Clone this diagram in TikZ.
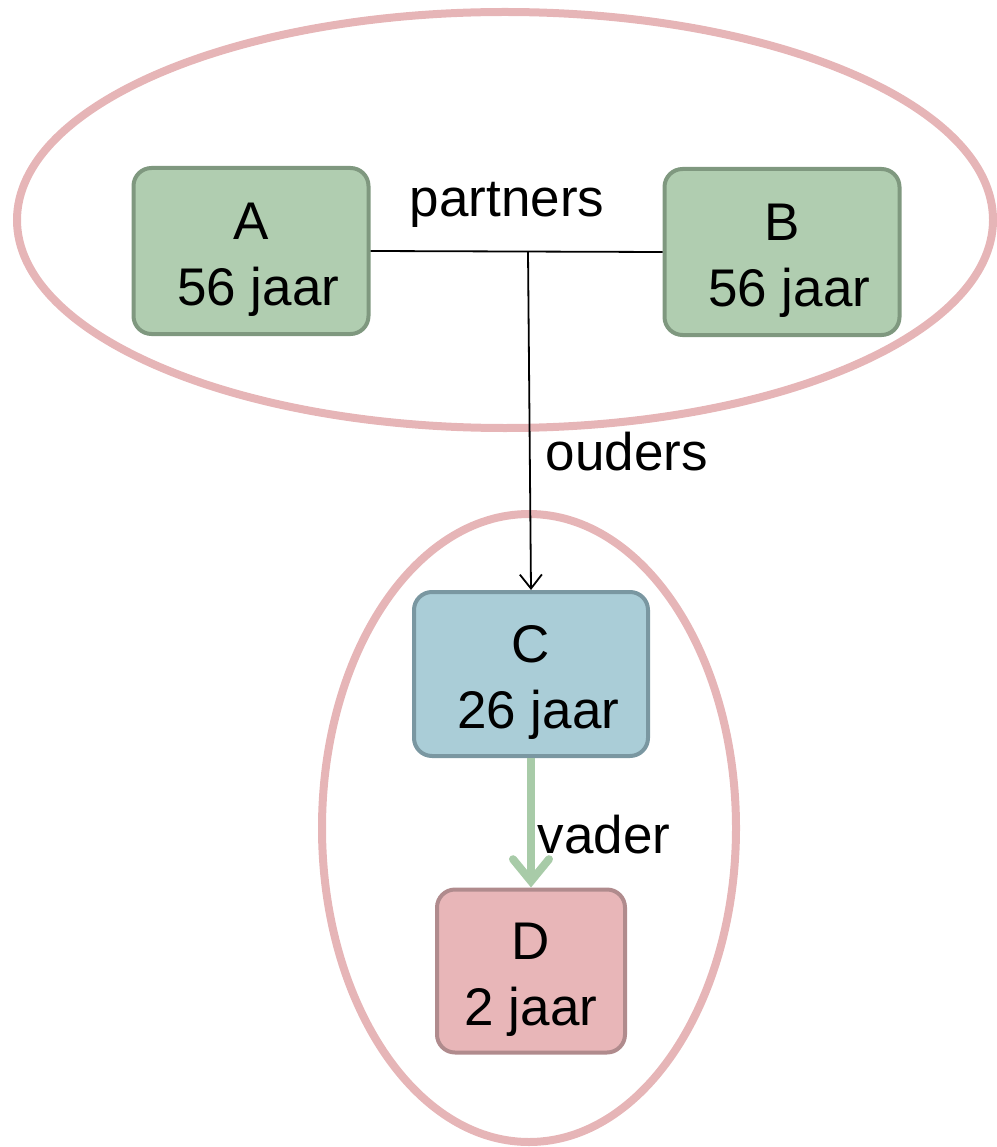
\documentclass[tikz,border=0pt]{standalone}
\usepackage{fontspec}
\setmainfont{Liberation Sans}
\usetikzlibrary{arrows.meta}
\definecolor{gfill}{HTML}{B0CDB0}
\definecolor{gline}{HTML}{7F987F}
\definecolor{bfill}{HTML}{AACDD7}
\definecolor{bline}{HTML}{7A97A1}
\definecolor{pfill}{HTML}{E8B6B8}
\definecolor{pline}{HTML}{B08B8D}
\definecolor{ringc}{HTML}{E6B5B7}
\definecolor{garrow}{HTML}{A8CBA8}
\newcommand{\lead}{\hspace*{0.278em}}
\begin{document}
\begin{tikzpicture}[x=1pt,y=-1pt,
  person/.style={draw, rounded corners=18pt, line width=4pt, align=center,
    inner sep=0pt, text height=120pt, font=\fontsize{53}{66}\selectfont},
  ring/.style={draw=ringc, line width=8pt},
  rel/.style={draw=black, line width=1.8pt},
  lbl/.style={inner sep=0pt, font=\fontsize{53}{64}\selectfont}]
\useasboundingbox (0,0) rectangle (996,1147);
% groups
\draw[ring] (505,220) ellipse [x radius=488, y radius=208];
\draw[ring] (529,828) ellipse [x radius=207, y radius=314];
% persons
\node[person, fill=gfill, draw=gline, minimum width=235pt, minimum height=166pt] (A) at (251,251) {A\\\lead 56 jaar};
\node[person, fill=gfill, draw=gline, minimum width=235pt, minimum height=166pt] (B) at (782,252) {B\\\lead 56 jaar};
\node[person, fill=bfill, draw=bline, minimum width=234pt, minimum height=164pt] (C) at (531,674) {C\\\lead 26 jaar};
\node[person, fill=pfill, draw=pline, minimum width=188pt, minimum height=163pt] (D) at (531,971) {D\\2 jaar};
% relations
\draw[rel] (A.east) -- (B.west);
\coordinate (j) at (528,252);
\draw[rel, -{Straight Barb[length=14pt,width=22pt,line width=1.8pt]}] (j) -- (C.north);
\draw[draw=garrow, line width=8pt, -{Straight Barb[length=22pt,width=36pt,line cap=round]}] (C.south) -- (D.north);
% labels
\node[lbl] (lp) at (507,205) {partners};
\node[lbl] (lo) at (627,452) {ouders};
\node[lbl] (lv) at (604,835) {vader};
\end{tikzpicture}
\end{document}
